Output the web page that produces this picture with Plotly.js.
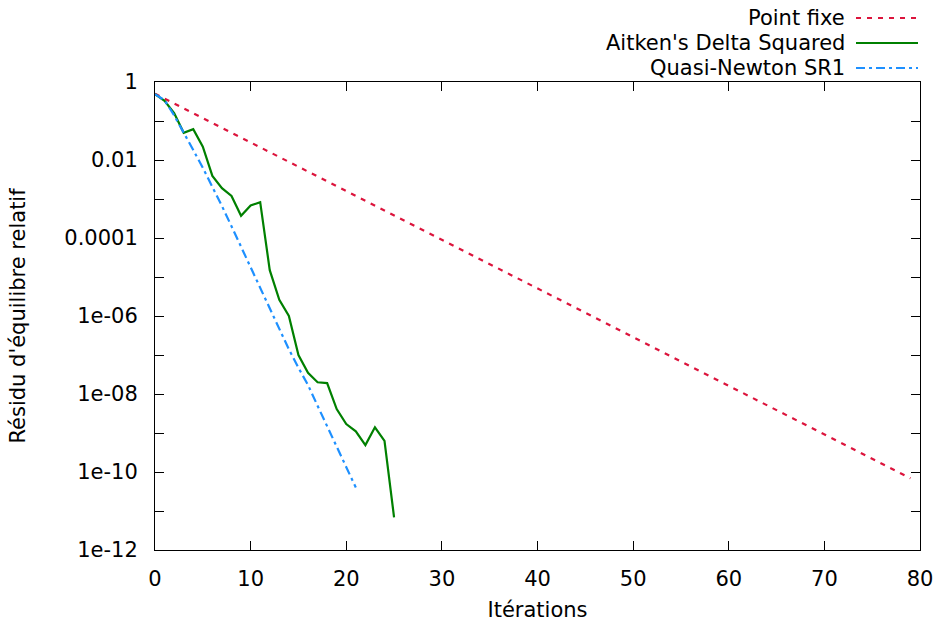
<!DOCTYPE html>
<html>
<head>
<meta charset="utf-8">
<script src="https://cdn.plot.ly/plotly-3.0.1.min.js"></script>
<style>html,body{margin:0;padding:0;background:#fff;}#chart{width:937px;height:622px;}</style>
</head>
<body>
<div id="chart"></div>
<script>
// ---- data ----
const seriesNames = ["Point fixe", "Aitken's Delta Squared", "Quasi-Newton SR1"];

const pointFixeIter = Array.from({length: 80}, (_, i) => i);
const pointFixe = [
  0.5, 0.375, 0.281, 0.211, 0.158, 0.119, 0.089, 0.0667, 0.0501, 0.0375,
  0.0282, 0.0211, 0.0158, 0.0119, 0.00891, 0.00668, 0.00501, 0.00376, 0.00282, 0.00211,
  0.00159, 0.00119, 8.92e-4, 6.69e-4, 5.02e-4, 3.76e-4, 2.82e-4, 2.12e-4, 1.59e-4, 1.19e-4,
  8.93e-5, 6.70e-5, 5.02e-5, 3.77e-5, 2.83e-5, 2.12e-5, 1.59e-5, 1.19e-5, 8.94e-6, 6.71e-6,
  5.03e-6, 3.77e-6, 2.83e-6, 2.12e-6, 1.59e-6, 1.19e-6, 8.95e-7, 6.71e-7, 5.04e-7, 3.78e-7,
  2.83e-7, 2.12e-7, 1.59e-7, 1.19e-7, 8.96e-8, 6.72e-8, 5.04e-8, 3.78e-8, 2.84e-8, 2.13e-8,
  1.59e-8, 1.20e-8, 8.97e-9, 6.73e-9, 5.05e-9, 3.78e-9, 2.84e-9, 2.13e-9, 1.60e-9, 1.20e-9,
  8.98e-10, 6.73e-10, 5.05e-10, 3.79e-10, 2.84e-10, 2.13e-10, 1.60e-10, 1.20e-10, 8.99e-11, 6.9e-11
];

const aitkenIter = Array.from({length: 26}, (_, i) => i);
const aitken = [
  0.49, 0.33, 0.16, 0.050, 0.062, 0.022, 0.0039, 0.0019, 0.0012, 3.7e-4,
  6.8e-4, 8.3e-4, 1.5e-5, 2.6e-6, 1.0e-6, 1.0e-7, 3.5e-8, 2.0e-8, 1.9e-8, 4.1e-9,
  1.7e-9, 1.1e-9, 4.9e-10, 1.4e-9, 6.3e-10, 6.9e-12
];

const sr1Iter = Array.from({length: 22}, (_, i) => i);
const sr1 = [
  0.49, 0.34, 0.14, 0.052, 0.018, 6.3e-3, 2.1e-3, 6.6e-4, 2.0e-4, 6.0e-5,
  1.8e-5, 5.5e-6, 1.6e-6, 4.9e-7, 1.4e-7, 4.7e-8, 1.7e-8, 5.0e-9, 1.5e-9, 4.5e-10,
  1.3e-10, 4.0e-11
];

const xTickVals = [0, 10, 20, 30, 40, 50, 60, 70, 80];
const yTickVals = [1, 0.1, 0.01, 0.001, 0.0001, 1e-5, 1e-6, 1e-7, 1e-8, 1e-9, 1e-10, 1e-11, 1e-12];
const yTickText = ["1", "", "0.01", "", "0.0001", "", "1e-06", "", "1e-08", "", "1e-10", "", "1e-12"];

// ---- styles ----
const colors = ["#dc143c", "#008000", "#1e90ff"];
const dashes = ["5px,6px", "solid", "9px,4px,3px,4px"];
const widths = [2.2, 2.2, 2.2];

const xs = [pointFixeIter, aitkenIter, sr1Iter];
const ys = [pointFixe, aitken, sr1];

const traces = ys.map((y, i) => ({
  type: "scatter", mode: "lines", x: xs[i], y: y, name: seriesNames[i],
  line: {color: colors[i], dash: dashes[i], width: widths[i]},
  showlegend: false, cliponaxis: true
}));

const FONT = "DejaVu Sans, sans-serif";
const FS = 21;
const W = 937, H = 622, L = 155, R = 17, T = 82, B = 72;
const pw = W - L - R, ph = H - T - B;
const px2x = p => (p - L) / pw;
const py2y = p => (H - B - p) / ph;

const legendRows = [18, 43, 68];
const annotations = seriesNames.map((n, i) => ({
  xref: "paper", yref: "paper", x: px2x(847), y: py2y(legendRows[i]),
  xanchor: "right", yanchor: "middle", text: n, showarrow: false,
  font: {family: FONT, size: FS, color: "#000"}
}));
const shapes = seriesNames.map((n, i) => ({
  type: "line", xref: "paper", yref: "paper",
  x0: px2x(856), x1: px2x(918), y0: py2y(legendRows[i]), y1: py2y(legendRows[i]),
  line: {color: colors[i], dash: dashes[i], width: widths[i]}
}));

const layout = {
  width: W, height: H,
  margin: {l: L, r: R, t: T, b: B, pad: 0},
  paper_bgcolor: "#fff", plot_bgcolor: "#fff",
  font: {family: FONT, size: FS, color: "#000"},
  showlegend: false,
  xaxis: {
    range: [0, 80], tickvals: xTickVals, ticktext: xTickVals.map(String),
    ticks: "inside", ticklen: 9, tickwidth: 1, tickcolor: "#000",
    showline: true, linecolor: "#000", linewidth: 1, mirror: "ticks",
    showgrid: false, zeroline: false,
    ticklabelstandoff: 10,
    title: {text: "Itérations", font: {family: FONT, size: FS}, standoff: 18}
  },
  yaxis: {
    type: "log", range: [-12, 0], tickvals: yTickVals, ticktext: yTickText,
    ticks: "inside", ticklen: 9, tickwidth: 1, tickcolor: "#000",
    showline: true, linecolor: "#000", linewidth: 1, mirror: "ticks",
    showgrid: false, zeroline: false,
    ticklabelstandoff: 12,
    title: {text: "Résidu d'équilibre relatif", font: {family: FONT, size: FS}, standoff: 32}
  },
  annotations: annotations,
  shapes: shapes
};

Plotly.newPlot("chart", traces, layout, {staticPlot: true, displayModeBar: false});
</script>
</body>
</html>
